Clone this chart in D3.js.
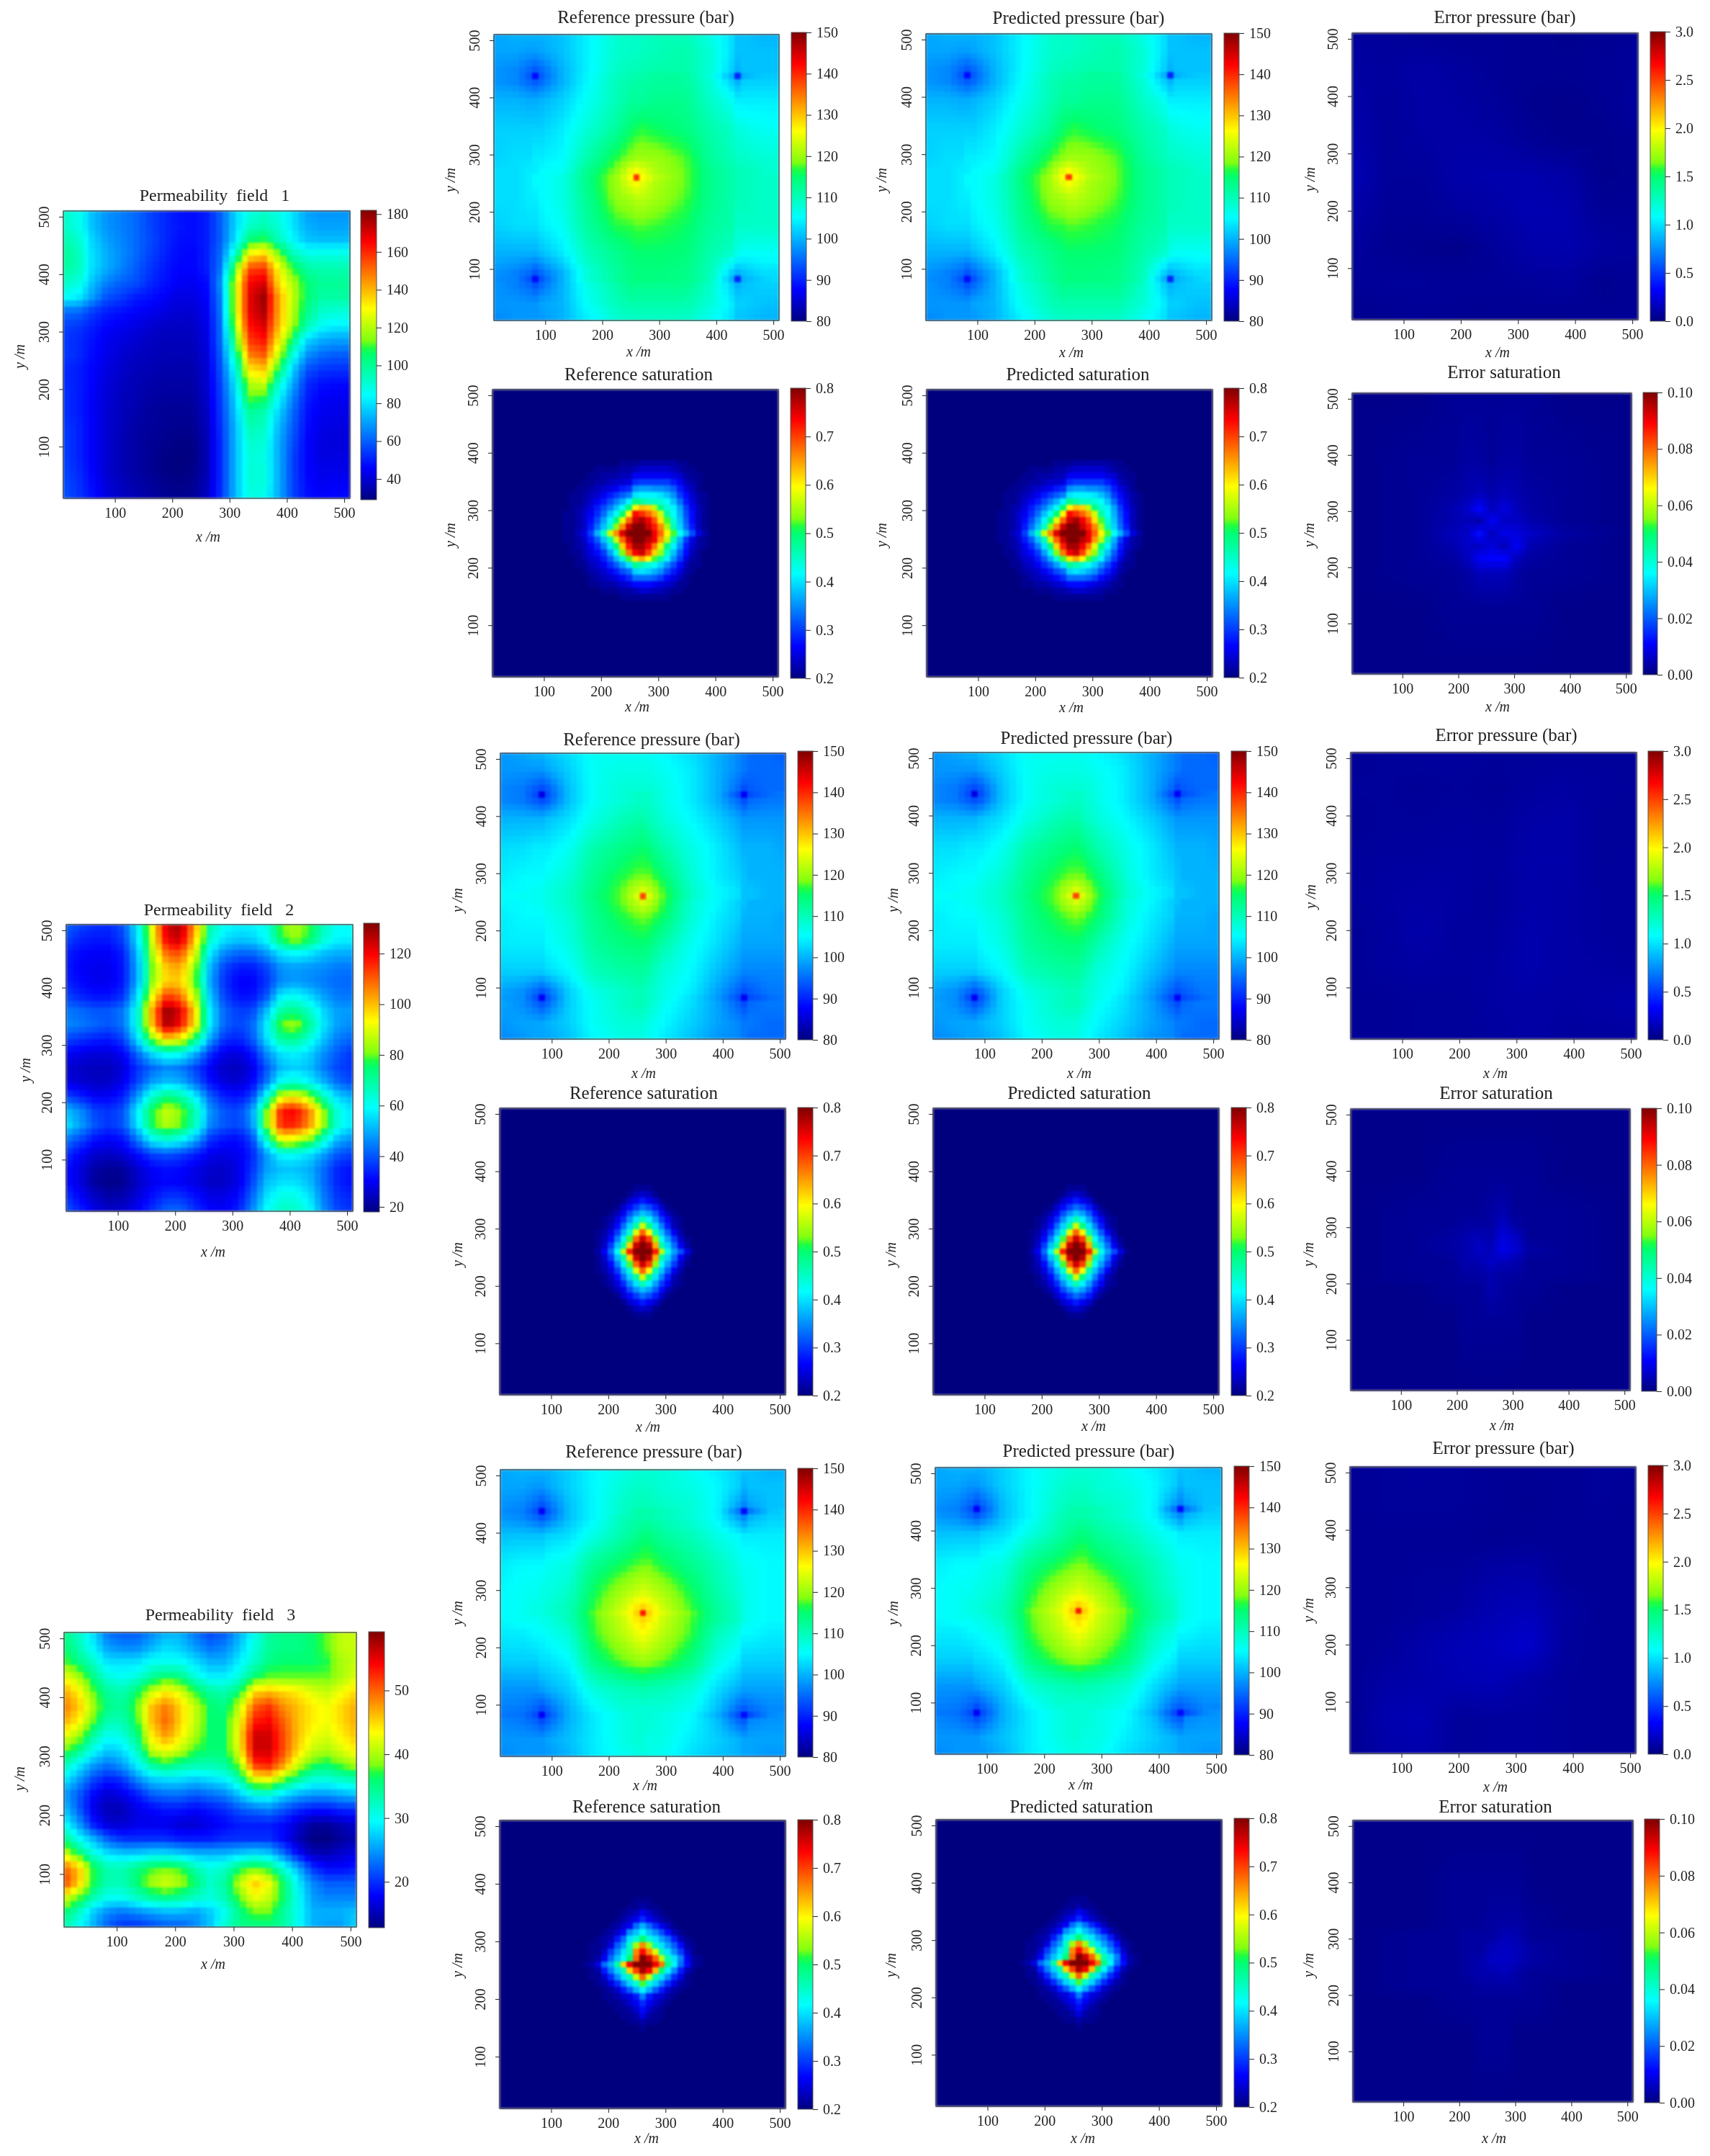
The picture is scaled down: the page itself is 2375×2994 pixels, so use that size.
<!DOCTYPE html>
<html>
<head>
<meta charset="utf-8">
<script src="https://cdn.jsdelivr.net/npm/d3@7"></script>
<style>
  html, body { margin: 0; background: #fff; }
  #chart { position: relative; width: 2375px; height: 2994px; overflow: hidden; }
  canvas, svg { position: absolute; left: 0; top: 0; }
  svg { filter: blur(0.45px); }
  text { font-family: "Liberation Serif", serif; fill: #222; }
</style>
</head>
<body>
<div id="chart"></div>
<script>
// --- Values ---
// Each table holds samples estimated by eye from the colours. Rows run top (high y) to bottom.
// Between samples the cells are shaded linearly (like gouraud shading), nothing else is added.
const permXs = [10,35,60,85,110,135,160,185,210,235,260,285,310,335,360,385,410,435,460,485,510];
const permYs = [510,485,460,435,410,385,360,335,310,285,260,235,210,185,160,135,110,85,60,35,10];

const perm1 = [
[92,88,75,68,65,62,56,52,48,47,50,60,78,88,92,88,80,70,68,68,68],
[92,88,75,68,65,62,56,52,49,47,50,60,78,92,95,90,80,72,70,70,70],
[96,92,78,70,66,62,57,52,48,47,50,60,80,104,108,94,84,75,74,74,74],
[100,95,80,72,67,62,56,51,47,46,50,62,92,130,136,114,95,88,88,88,88],
[98,95,80,72,66,60,54,49,46,46,50,63,114,156,158,130,110,98,96,96,96],
[92,90,75,65,60,58,52,48,45,44,47,68,124,166,170,134,120,105,100,100,100],
[85,82,70,58,55,50,48,45,42,42,46,65,124,168,178,142,122,105,98,98,98],
[62,62,55,50,48,46,44,42,40,40,44,64,124,168,176,142,120,102,92,90,90],
[55,54,50,46,44,42,40,38,38,38,43,62,120,163,170,140,118,96,85,82,82],
[54,52,48,44,42,40,38,37,37,37,42,62,107,158,163,132,105,78,72,70,70],
[54,52,47,43,40,38,37,36,36,36,41,60,97,148,153,122,90,68,62,60,60],
[52,50,46,42,39,37,36,35,35,35,40,58,87,133,138,107,78,58,54,53,53],
[52,50,46,41,38,36,35,34,34,34,40,56,82,120,123,92,72,52,48,47,47],
[53,50,45,41,37,36,34,33,33,33,39,55,78,112,108,84,66,50,45,44,44],
[53,50,45,40,37,35,33,32,32,32,38,54,76,100,96,78,62,48,44,43,43],
[54,51,45,40,37,34,33,32,31,31,37,53,74,96,93,74,60,47,43,42,42],
[55,51,45,40,36,34,32,31,30,30,36,52,74,92,90,72,58,46,42,41,41],
[55,51,45,40,36,34,32,30,29,29,36,52,74,90,88,72,56,46,42,42,42],
[56,52,46,40,36,34,32,30,29,30,36,52,74,90,89,72,56,46,43,43,43],
[57,53,47,41,37,35,33,31,30,31,37,52,74,90,89,72,56,47,44,45,45],
[58,54,48,42,38,36,34,32,31,32,38,53,74,88,86,72,56,48,46,47,47]
];
const perm2 = [
[42,38,36,35,40,58,92,125,128,102,70,60,58,58,62,80,85,78,66,60,60],
[38,34,33,33,38,56,90,122,125,98,66,56,53,54,60,77,84,76,64,58,58],
[34,31,30,30,34,52,85,110,112,90,58,46,42,42,48,57,60,57,52,50,50],
[33,30,29,29,33,50,80,100,102,82,52,38,33,33,38,47,48,47,46,44,44],
[34,31,29,29,33,50,82,98,98,80,50,36,30,30,36,46,48,46,44,42,42],
[38,34,32,32,36,56,92,114,108,86,54,38,32,32,40,58,60,55,48,44,44],
[44,42,40,40,44,62,102,131,122,96,58,42,37,38,52,70,72,65,54,48,48],
[46,44,42,40,44,62,100,129,119,94,58,42,38,42,58,81,85,71,56,48,46],
[38,36,34,33,38,56,82,98,92,74,50,36,34,40,56,71,72,63,52,44,42],
[30,28,27,27,30,42,55,62,60,50,36,28,27,32,46,56,58,54,46,40,36],
[26,25,24,24,27,36,42,46,44,38,30,25,24,28,40,52,54,52,44,38,36],
[28,26,25,25,29,38,48,52,50,42,32,27,26,30,44,61,64,58,50,42,38],
[38,34,30,30,34,48,65,74,70,58,42,34,32,38,62,90,94,84,66,54,50],
[52,46,38,36,40,58,77,88,82,68,48,40,38,48,82,118,120,106,82,62,56],
[56,48,40,36,40,56,76,86,80,66,46,40,38,46,82,116,116,104,82,62,56],
[44,38,32,30,32,44,59,64,60,50,36,32,31,38,65,92,90,82,64,50,46],
[36,30,26,25,27,32,38,40,38,34,29,28,29,34,48,60,60,56,48,40,38],
[32,27,22,20,21,26,30,32,31,28,26,25,28,36,48,52,52,50,42,34,32],
[32,27,21,19,20,25,29,31,30,28,25,25,28,38,52,56,56,52,42,34,32],
[36,30,25,22,23,27,32,36,36,32,28,28,31,42,56,62,62,56,44,36,34],
[40,34,28,25,26,30,36,42,42,36,31,30,34,46,60,66,66,60,46,38,36]
];
const perm3 = [
[35,32,28,23,22,22,24,26,26,23,21,22,26,30,34,35,35,36,38,41,41],
[36,33,29,25,24,24,26,28,27,25,23,24,27,31,34,35,35,36,38,41,41],
[38,35,32,28,28,28,30,30,30,28,26,26,29,32,35,36,36,36,37,40,41],
[43,40,35,31,30,31,34,36,35,31,29,29,31,36,38,38,38,38,38,40,42],
[47,44,38,34,33,36,41,44,42,37,34,33,36,45,46,45,44,42,41,43,45],
[49,46,40,35,34,38,46,49,45,41,36,35,41,50,52,48,46,44,43,45,47],
[47,44,38,33,33,37,46,50,45,41,36,36,43,53,54,50,46,44,43,45,47],
[43,40,34,30,31,35,44,48,44,40,36,36,44,56,56,51,46,43,42,44,46],
[38,35,30,27,28,32,41,43,41,37,36,36,43,56,56,51,45,41,40,42,44],
[33,29,25,23,25,29,34,36,34,33,33,34,39,52,53,48,41,37,36,38,40],
[29,25,21,19,20,24,27,28,28,27,28,29,33,42,43,38,34,31,31,32,33],
[25,22,18,16,17,19,22,23,23,22,23,24,27,31,31,28,26,25,25,26,27],
[27,22,17,15,15,17,18,19,19,18,19,20,22,23,24,22,20,19,19,20,20],
[30,25,19,16,16,17,17,17,16,16,17,18,19,19,19,18,16,14,14,15,16],
[35,30,26,22,20,20,20,20,19,19,19,20,20,20,20,18,15,13,13,14,15],
[42,36,31,28,27,27,28,28,27,26,26,26,27,28,27,23,18,15,15,16,17],
[50,46,37,33,33,35,37,38,37,33,31,32,36,38,36,31,26,20,18,18,19],
[52,46,37,33,33,36,40,42,40,36,32,34,41,46,43,36,29,24,22,22,22],
[42,38,33,30,30,32,34,35,34,32,31,33,38,43,41,36,30,25,24,24,24],
[36,32,27,24,23,24,25,26,26,25,27,30,35,38,38,34,30,26,26,26,27],
[33,30,26,22,20,20,21,22,22,24,27,32,35,35,35,34,30,26,25,25,28]
];

const pressXs = [10,50,71,82,93,130,175,225,249,260,271,295,345,390,427,438,449,480,510];
const pressYs = [510,480,449,438,427,395,345,295,271,260,249,225,175,130,93,82,71,40,10];

const pressure1 = [
[99,100,100,100,100,101,104.5,108.5,109,109,109,110,110,107,103,101,101,100,100],
[99,99,98.5,98.5,99,101,104.5,108.5,109,109,109.5,110,111,108,103,101,101,101,101],
[98,97,95,94,95,100,104.5,109,110,110,110.5,111,111,108,102,100,101,101,101],
[98,97,94,88,94,100,105,109.5,110.5,111,111,112,112,107.5,100,90,100,101.5,101.5],
[98,97,95,94,95,100,105,110,111,111.5,111.5,112,112,108,102,100,102,102,102],
[100,100,99.5,99.5,100,102,106,110,112,112,112,113,113,109,106,104,104,104,104],
[102,102,102,102,102,104,108,112,115,116,116.5,115.5,114,111,109,107.5,107,106,106],
[102,103,103,104,104,105,111,116.5,119,120,120,120,117.5,112,110,109,109,108,108],
[103,103,104,104,105,106,113,119,124.5,126,124.5,121,118,113,111,110,110,109,108],
[103,103,104,105,105,107,113.5,120,126,139,126,122,118,113,111,110,110,109,109],
[103,103,104,105,105,107,113.5,120,124.5,126,124.5,121,118,113,111,110,110,109,109],
[103,103,104,104,105,107,113,119.5,121,122,122,120.5,117.5,113,111,110,110,109,109],
[102,103,103,103,104,106,112,116.5,117,117.5,117.5,117,115.5,112,111,109,109,109,109],
[100,100,100,100,101,104,110,113,114.5,115,115,115,114.5,111,109,107,106,106,106],
[98,96.5,95,93.5,95,100,108,112,113.5,114,114,114,113.5,110,102,100,101,103,103],
[97.5,96.5,93.5,88,93.5,100,108,112,113.5,114,114,114,113.5,110,100,90,100,102,103],
[98,96.5,95,93.5,95,100,107,111,113,113,113,113,113,109,102,100,101,102,102],
[98,98,98,98,99,100,106,110,111,111,111,111,111,108,104,102,102,101,101],
[97,98,98,98,98,100,104,108,109,109,109,109,109,106,103,101,101,100,100]
];
const pressure2 = [
[98,99,100,100,101,103,106,106,106,106,106,105,103,100,97,96,95,95,94],
[98,98,98,98,99,102,106,107,107,107,107,106,104,100,97,96,95,95,95],
[97,96,94,93,94,101,106,108,108,108,108,107,104,100,95,93,94,95,95],
[97,96,93,86,93,101,106,108,109,109,109,107,104,100,93,87,93,95,96],
[97,96,94,93,94,101,106,108,109,109,109,107,104,100,95,93,95,96,96],
[100,100,100,100,101,103,107,110,111,111,110,108,105,102,99,98,98,98,98],
[103,103,104,104,104,106,111,113.5,114.5,115,114,111,107,104,101,100,100,100,99],
[104,105,105,105,106,108,113,116.5,118,118,118,115,108,104,102,101,100,100,100],
[105,105,106,106,107,109,113.5,118,122,124,122,117,109,105,103,101,101,100,100],
[105,106,106,106,107,109,114,118,124,138,124,117.5,109,105,103,101,101,100,100],
[105,105,106,106,107,109,113.5,118,122,124,122,117,108,105,102,101,100,100,100],
[104,105,105,105,106,108,113,116.5,118,118.5,118,115.5,108,104,102,100,100,100,99],
[104,104,104,104,105,107,112,114,114.5,114.5,114,111,106,103,100,99,99,99,99],
[102,102,102,102,103,105,110,111.5,112,112,111,108,105,101,98,97,97,97,97],
[99,97.5,95,93.5,95,102,107,109,110,110,109,107,104,99,94.5,93,94,96,96],
[98.5,97.5,93.5,87,93.5,102,106.5,109,110,110,109,107,103,98.5,93,87,93,95,96],
[99,97.5,95,93.5,95,102,106,109,110,110,109,106,103,99,94.5,93,95,96,96],
[98,99,99,99,100,102,106,108,108,108,107,105,102,99,97,96,96,95,95],
[97,98,99,99,99,101,105,107,107,107,106,104,101,98,97,96,95,95,95]
];
const pressure3 = [
[99,100,100,100,100,102,105,107,108,108,108,108,106,104,102,101,101,100,100],
[99,99,98,98,99,102,105,108,109,109,109,108,107,105,102,100,101,101,101],
[98,97,95,93.5,95,101,105,109,110,110,110,109,108,105,99,97,99,101,101],
[97.5,96.5,93.5,87,93.5,101,105,109,111,111,111,110,108,105,96,88,96,101,102],
[98,97,95,93.5,95,101,105,110,111,111,111,110,108,105,99,97,100,102,102],
[101,101,101,101,102,103,107,111,113,114,114,112,110,107,105,104,104,104,104],
[104,105,105,105,106,107,113,116,117.5,118,118,116,113,110,107,106,106,105,105],
[105,106,106,107,107,109,116,121,123,124,123,121,116,111,108,107,106,105,105],
[105,106,107,107,108,110,117,123,127.5,129,127.5,123,117,112,109,107,106,105,105],
[105,106,107,107,108,110,118,124,129,141,129,124,118,112,109,107,106,105,105],
[105,106,106,107,107,110,117.5,123,127.5,129,127.5,123,117.5,112,109,107,106,105,105],
[104,104,105,105,106,108,117,122,125,126,125,122,117,110,107,105,105,104,104],
[102,102,102,103,103,105,114,118,119.5,120,119.5,118,114,107,104,102,102,102,102],
[98,98,98,99,100,102,108,110,110.5,111,110.5,110,108,103,100,99,99,99,99],
[96.5,96,94.5,93,94.5,100,105,108,108,108,108,108,106,101,95,94,95,97,97],
[96,95.5,93,87,93,100,104,107,108,108,108,107,105,100,93,88,93,97,98],
[97,96,94.5,93,94.5,100,104,107,108,108,108,107,105,101,95,94,97,98,98],
[98,98,98,98,99,101,104,107,108,108,107,107,104,102,100,99,99,99,99],
[97,98,98,98,98,100,104,106,107,107,107,106,103,101,100,99,99,98,98]
];

// saturation in percent, one sample per simulation cell around the injector, cell index from it
const sat1Cols = d3.range(-11, 12);
const sat1Rows = d3.range(11, -12, -1);
const saturation1 = [
[20,20,20,20,20,20,20,20,20,21,21,21,22,22,22,22,22,22,21,21,20,20,20],
[20,20,20,20,20,21,21,21,21,22,22,23,24,24,24,24,24,23,22,21,21,20,20],
[20,20,20,20,21,21,22,22,22,23,23,26,26,26,26,26,26,25,24,22,21,21,20],
[20,20,20,21,21,22,22,23,24,24,25,29,30,30,30,30,30,28,26,23,22,21,20],
[20,20,21,21,22,23,24,25,26,28,29,35,36,36,35,35,34,32,28,25,23,21,20],
[20,21,21,22,23,24,26,28,30,32,34,40,41,41,41,40,38,35,30,27,24,22,21],
[20,21,21,22,24,26,28,31,34,37,41,49,47,45,45,44,42,38,33,28,25,22,21],
[20,21,22,23,25,28,31,34,38,42,50,60,63,62,56,49,44,41,36,30,26,23,21],
[21,21,22,24,26,29,33,38,42,50,60,73,71,68,64,57,47,42,37,31,27,23,21],
[21,21,22,24,27,31,36,41,50,58,68,76,78,74,69,61,52,44,38,32,27,23,21],
[21,21,22,24,28,33,38,45,54,66,76,80,80,76,72,66,55,46,39,33,28,23,21],
[21,21,23,25,30,37,45,57,66,75,80,80,80,80,74,68,60,52,42,37,31,25,22],
[21,21,22,24,28,32,38,46,57,68,76,80,80,77,74,65,56,46,37,30,25,22,21],
[20,21,22,23,26,29,34,40,50,62,72,78,78,74,67,58,49,41,35,28,24,22,21],
[20,21,21,23,25,27,30,36,43,53,67,74,76,70,62,54,45,38,32,27,23,21,20],
[20,20,21,22,24,25,28,32,37,44,52,61,64,60,52,47,41,35,30,25,22,21,20],
[20,20,21,21,23,24,26,29,32,36,40,48,46,44,42,39,35,31,27,23,21,21,20],
[20,20,20,21,22,23,24,26,28,31,33,39,40,39,37,35,31,28,25,22,21,20,20],
[20,20,20,20,21,22,23,24,25,27,29,33,33,33,32,30,27,25,23,21,20,20,20],
[20,20,20,20,21,21,22,22,23,24,25,27,27,27,26,25,24,23,21,21,20,20,20],
[20,20,20,20,20,20,21,21,21,22,22,23,24,24,23,23,22,21,21,20,20,20,20],
[20,20,20,20,20,20,20,20,20,21,21,21,21,21,21,21,21,20,20,20,20,20,20],
[20,20,20,20,20,20,20,20,20,20,20,20,20,20,20,20,20,20,20,20,20,20,20]
];
const sat2Cols = d3.range(-9, 10);
const sat2Rows = d3.range(10, -11, -1);
const saturation2 = [
[20,20,20,20,20,20,20,20,21,21,21,20,20,20,20,20,20,20,20],
[20,20,20,20,20,20,20,21,23,24,23,21,20,20,20,20,20,20,20],
[20,20,20,20,20,20,21,24,26,28,26,24,21,20,20,20,20,20,20],
[20,20,20,20,20,21,24,27,30,33,31,28,24,21,20,20,20,20,20],
[20,20,20,20,21,23,26,31,35,38,36,32,27,23,21,20,20,20,20],
[20,20,20,21,22,25,29,35,40,46,41,36,30,26,22,21,20,20,20],
[20,20,20,21,23,27,33,39,47,57,49,40,34,28,23,21,20,20,20],
[20,20,21,22,25,30,37,44,58,68,60,46,38,32,26,22,20,20,20],
[20,20,21,23,27,34,41,52,68,76,70,54,42,36,30,24,21,20,20],
[20,20,21,24,30,38,47,62,76,80,77,64,47,39,33,26,22,20,20],
[20,20,22,26,33,42,56,72,80,80,80,72,56,43,36,31,25,21,20],
[20,20,21,24,30,38,47,62,76,80,77,64,47,39,33,26,22,20,20],
[20,20,21,23,27,34,41,52,68,76,70,54,42,36,30,24,21,20,20],
[20,20,21,22,25,30,37,44,58,68,60,46,38,32,26,22,20,20,20],
[20,20,20,21,23,27,33,39,47,57,49,40,34,28,23,21,20,20,20],
[20,20,20,21,22,25,29,35,40,46,41,36,30,26,22,21,20,20,20],
[20,20,20,20,21,23,26,31,35,38,36,32,27,23,21,20,20,20,20],
[20,20,20,20,20,21,24,27,30,33,31,28,24,21,20,20,20,20,20],
[20,20,20,20,20,20,21,24,26,28,26,24,21,20,20,20,20,20,20],
[20,20,20,20,20,20,20,21,23,24,23,21,20,20,20,20,20,20,20],
[20,20,20,20,20,20,20,20,21,21,21,20,20,20,20,20,20,20,20]
];
const saturation3 = [
[20,20,20,20,20,20,20,20,21,21,21,20,20,20,20,20,20,20,20],
[20,20,20,20,20,20,20,21,21,22,21,21,20,20,20,20,20,20,20],
[20,20,20,20,20,20,21,22,23,26,24,22,21,20,20,20,20,20,20],
[20,20,20,20,20,21,22,24,26,29,26,24,22,21,20,20,20,20,20],
[20,20,20,20,21,22,24,26,33,37,33,29,26,23,21,20,20,20,20],
[20,20,20,21,22,24,27,35,38,42,38,35,31,27,23,21,20,20,20],
[20,20,21,22,23,28,33,40,44,50,44,40,36,33,28,23,21,20,20],
[20,21,21,22,25,32,36,45,55,66,55,45,40,36,32,27,22,21,20],
[20,21,21,24,30,35,40,46,66,73,66,58,46,40,35,30,24,21,20],
[20,21,22,26,33,38,42,50,68,80,76,68,56,46,40,34,26,22,21],
[21,22,25,33,37,47,62,74,80,80,80,74,67,49,41,33,27,22,21],
[20,21,22,28,34,39,46,62,70,78,74,63,50,41,35,28,23,21,20],
[20,21,21,24,29,35,40,46,57,68,57,46,40,35,29,25,21,20,20],
[20,20,21,22,25,29,34,39,44,52,44,39,34,29,25,22,21,20,20],
[20,20,20,21,22,24,28,32,37,41,37,32,28,24,22,21,20,20,20],
[20,20,20,21,21,22,24,25,28,34,28,25,24,22,21,20,20,20,20],
[20,20,20,20,21,21,22,24,26,29,26,24,22,21,20,20,20,20,20],
[20,20,20,20,20,21,21,22,24,27,24,22,21,20,20,20,20,20,20],
[20,20,20,20,20,20,21,21,22,25,22,21,21,20,20,20,20,20,20],
[20,20,20,20,20,20,20,21,21,22,21,21,20,20,20,20,20,20,20],
[20,20,20,20,20,20,20,20,20,21,20,20,20,20,20,20,20,20,20]
];

const errPressXs = [10,72,135,197,260,322,385,447,510];
const errPressYs = [510,447,385,322,260,197,135,72,10];
const errPressure1 = [
[.08,.07,.06,.05,.06,.05,.04,.05,.07],
[.09,.08,.10,.08,.06,.05,.05,.06,.07],
[.11,.07,.10,.09,.07,.04,.03,.05,.08],
[.12,.07,.09,.10,.09,.06,.04,.04,.06],
[.14,.07,.07,.11,.12,.12,.10,.04,.05],
[.11,.06,.06,.08,.10,.13,.12,.06,.06],
[.08,.05,.04,.03,.07,.11,.12,.09,.07],
[.06,.07,.07,.06,.06,.07,.08,.04,.06],
[.04,.05,.06,.05,.05,.05,.05,.06,.06]
];
const errPressure2 = [
[.06,.07,.08,.08,.07,.07,.07,.07,.07],
[.07,.07,.06,.07,.06,.08,.09,.08,.07],
[.06,.07,.07,.08,.07,.10,.11,.07,.07],
[.07,.08,.08,.09,.08,.11,.11,.07,.08],
[.07,.09,.10,.09,.07,.11,.10,.08,.07],
[.06,.08,.11,.08,.08,.12,.10,.08,.07],
[.06,.08,.09,.08,.09,.12,.10,.09,.08],
[.06,.06,.07,.07,.09,.10,.09,.10,.12],
[.06,.06,.07,.07,.08,.10,.08,.08,.08]
];
const errPressure3 = [
[.06,.07,.08,.07,.06,.06,.06,.07,.07],
[.06,.07,.07,.07,.06,.05,.06,.07,.06],
[.06,.06,.06,.06,.05,.06,.06,.06,.06],
[.06,.06,.07,.07,.10,.11,.06,.06,.06],
[.06,.06,.07,.09,.13,.15,.09,.06,.06],
[.06,.07,.11,.14,.16,.20,.08,.06,.06],
[.05,.10,.11,.13,.14,.10,.07,.06,.06],
[.05,.12,.14,.07,.08,.08,.07,.06,.06],
[.05,.10,.12,.07,.08,.08,.07,.06,.06]
];

const errSatXs = [10,130,190,215,238,260,282,305,330,390,510];
const errSatYs = [510,390,330,305,282,260,238,215,190,130,10];
const errSaturation1 = [
[.001,.001,.002,.002,.002,.002,.002,.002,.002,.001,.001],
[.001,.002,.002,.003,.003,.002,.003,.003,.002,.002,.001],
[.001,.002,.003,.004,.005,.004,.005,.004,.003,.002,.001],
[.001,.002,.004,.006,.011,.005,.008,.005,.003,.002,.001],
[.001,.002,.004,.005,.004,.010,.006,.006,.004,.002,.001],
[.001,.002,.005,.006,.012,.005,.009,.008,.006,.003,.001],
[.001,.002,.004,.006,.006,.008,.005,.010,.004,.002,.001],
[.001,.002,.003,.005,.010,.011,.011,.005,.003,.002,.001],
[.001,.002,.002,.003,.005,.005,.005,.003,.002,.002,.001],
[.001,.001,.002,.002,.002,.002,.002,.002,.002,.001,.001],
[.001,.001,.001,.001,.001,.001,.001,.001,.001,.001,.001]
];
const errSaturation2 = [
[.001,.001,.001,.001,.001,.001,.001,.001,.001,.001,.001],
[.001,.001,.002,.002,.002,.002,.002,.002,.002,.001,.001],
[.001,.002,.002,.002,.002,.003,.004,.002,.002,.002,.001],
[.001,.002,.002,.003,.003,.003,.006,.003,.002,.002,.001],
[.001,.002,.003,.004,.005,.004,.008,.006,.002,.002,.001],
[.001,.002,.003,.004,.006,.005,.009,.007,.003,.002,.001],
[.001,.002,.002,.004,.004,.006,.005,.004,.002,.002,.001],
[.001,.002,.002,.003,.003,.004,.003,.003,.002,.002,.001],
[.001,.001,.002,.002,.002,.004,.003,.002,.002,.001,.001],
[.001,.001,.001,.002,.002,.002,.002,.002,.001,.001,.001],
[.001,.001,.001,.001,.001,.001,.001,.001,.001,.001,.001]
];
const errSaturation3 = [
[.001,.001,.001,.001,.001,.001,.001,.001,.001,.001,.001],
[.001,.001,.002,.002,.002,.002,.002,.002,.001,.001,.001],
[.001,.001,.002,.002,.002,.003,.003,.003,.002,.001,.001],
[.001,.002,.002,.003,.003,.003,.005,.004,.002,.002,.001],
[.001,.002,.002,.003,.003,.005,.006,.005,.003,.002,.001],
[.001,.002,.002,.003,.004,.006,.006,.005,.003,.002,.001],
[.001,.002,.002,.003,.004,.004,.005,.003,.002,.002,.001],
[.001,.002,.002,.002,.003,.003,.003,.003,.002,.001,.001],
[.001,.001,.002,.002,.002,.002,.002,.002,.002,.001,.001],
[.001,.001,.001,.001,.002,.002,.002,.001,.001,.001,.001],
[.001,.001,.001,.001,.001,.001,.001,.001,.001,.001,.001]
];

const axisTicks = [100, 200, 300, 400, 500];
const perm1Ticks = [40, 60, 80, 100, 120, 140, 160, 180];
const perm2Ticks = [20, 40, 60, 80, 100, 120];
const perm3Ticks = [20, 30, 40, 50];
const pressureTicks = [80, 90, 100, 110, 120, 130, 140, 150];
const saturationTicks = [0.2, 0.3, 0.4, 0.5, 0.6, 0.7, 0.8];
const errPressureTicks = [0, 0.5, 1, 1.5, 2, 2.5, 3];
const errSaturationTicks = [0, 0.02, 0.04, 0.06, 0.08, 0.1];

// --- Colours ---
const jetStops = [0, 0.11, 0.36, 0.5, 0.525, 0.55, 0.66, 0.89, 1];
const jetColors = ["#00007f", "#0000ff", "#00ffff", "#00ff70", "#20ff40", "#80ff10", "#ffff00", "#ff0000", "#7f0000"];
const jet = d3.scaleLinear().domain(jetStops).range(jetColors).clamp(true);

// --- Layout ---
const dimensions = { width: 2375, height: 2994 };
const CELLS = 45; // the simulation grid, 500 m / 45
const DOMAIN = [10, 510];
const cellCentre = k => 260 + k * 100 / 9;

const fmt1 = d3.format(".1f"), fmt2 = d3.format(".2f"), fmt0 = d3.format("d");
const kinds = {
  pressure: { range: [80, 150], ticks: pressureTicks, fmt: fmt0, xs: pressXs, ys: pressYs, unit: 1 },
  sat1: { range: [0.2, 0.8], ticks: saturationTicks, fmt: fmt1, xs: sat1Cols.map(cellCentre), ys: sat1Rows.map(cellCentre), unit: 0.01, outside: 20 },
  sat2: { range: [0.2, 0.8], ticks: saturationTicks, fmt: fmt1, xs: sat2Cols.map(cellCentre), ys: sat2Rows.map(cellCentre), unit: 0.01, outside: 20 },
  errP: { range: [0, 3], ticks: errPressureTicks, fmt: fmt1, xs: errPressXs, ys: errPressYs, unit: 1 },
  errS: { range: [0, 0.1], ticks: errSaturationTicks, fmt: fmt2, xs: errSatXs, ys: errSatYs, unit: 1 }
};

const panels = [
  { title: "Permeability  field   1", size: 24, data: perm1, kind: { range: [29, 182], ticks: perm1Ticks, fmt: fmt0, xs: permXs, ys: permYs, unit: 1 },
    box: [88, 486, 293, 692], bar: [501, 523, 292, 694], titleAt: [298, 271], xAt: [289, 746], yAt: [28, 495] },
  { title: "Permeability  field   2", size: 24, data: perm2, kind: { range: [18, 132], ticks: perm2Ticks, fmt: fmt0, xs: permXs, ys: permYs, unit: 1 },
    box: [92, 490, 1284, 1682], bar: [505, 527, 1282, 1683], titleAt: [304, 1263], xAt: [296, 1739], yAt: [36, 1486] },
  { title: "Permeability  field   3", size: 24, data: perm3, kind: { range: [12.8, 59.2], ticks: perm3Ticks, fmt: fmt0, xs: permXs, ys: permYs, unit: 1 },
    box: [89, 495, 2267, 2676], bar: [512, 534, 2266, 2677], titleAt: [306, 2242], xAt: [296, 2728], yAt: [28, 2470] },

  { title: "Reference pressure (bar)", data: pressure1, kind: kinds.pressure,
    box: [686, 1082, 48, 445], bar: [1099, 1120, 45, 446], titleAt: [897, 24], xAt: [887, 489], yAt: [626, 250] },
  { title: "Predicted pressure (bar)", data: pressure1, kind: kinds.pressure,
    box: [1286, 1683, 47, 445], bar: [1700, 1721, 46, 446], titleAt: [1498, 25], xAt: [1488, 490], yAt: [1225, 250] },
  { title: "Error pressure (bar)", data: errPressure1, kind: kinds.errP,
    box: [1878, 2275, 46, 444], bar: [2292, 2313, 44, 446], titleAt: [2090, 24], xAt: [2080, 490], yAt: [1820, 249] },
  { title: "Reference saturation", data: saturation1, kind: kinds.sat1,
    box: [684, 1081, 541, 940], bar: [1098, 1119, 539, 942], titleAt: [887, 520], xAt: [885, 982], yAt: [626, 743] },
  { title: "Predicted saturation", data: saturation1, kind: kinds.sat1,
    box: [1287, 1684, 541, 940], bar: [1700, 1721, 539, 941], titleAt: [1497, 520], xAt: [1488, 983], yAt: [1225, 743] },
  { title: "Error saturation", data: errSaturation1, kind: kinds.errS,
    box: [1878, 2266, 546, 936], bar: [2282, 2302, 545, 937], titleAt: [2089, 517], xAt: [2080, 982], yAt: [1819, 743] },

  { title: "Reference pressure (bar)", data: pressure2, kind: kinds.pressure,
    box: [695, 1091, 1046, 1443], bar: [1108, 1129, 1043, 1444], titleAt: [905, 1027], xAt: [894, 1491], yAt: [636, 1250] },
  { title: "Predicted pressure (bar)", data: pressure2, kind: kinds.pressure,
    box: [1296, 1693, 1045, 1443], bar: [1710, 1731, 1043, 1444], titleAt: [1509, 1025], xAt: [1499, 1491], yAt: [1241, 1250] },
  { title: "Error pressure (bar)", data: errPressure2, kind: kinds.errP,
    box: [1876, 2273, 1045, 1443], bar: [2289, 2310, 1043, 1444], titleAt: [2092, 1021], xAt: [2077, 1491], yAt: [1821, 1245] },
  { title: "Reference saturation", data: saturation2, kind: kinds.sat2,
    box: [694, 1091, 1539, 1937], bar: [1108, 1129, 1538, 1938], titleAt: [894, 1518], xAt: [900, 1982], yAt: [636, 1742] },
  { title: "Predicted saturation", data: saturation2, kind: kinds.sat2,
    box: [1296, 1693, 1539, 1937], bar: [1710, 1731, 1538, 1938], titleAt: [1499, 1518], xAt: [1519, 1981], yAt: [1238, 1742] },
  { title: "Error saturation", data: errSaturation2, kind: kinds.errS,
    box: [1876, 2264, 1540, 1931], bar: [2280, 2301, 1539, 1932], titleAt: [2078, 1518], xAt: [2086, 1980], yAt: [1818, 1742] },

  { title: "Reference pressure (bar)", data: pressure3, kind: kinds.pressure,
    box: [695, 1091, 2041, 2439], bar: [1108, 1129, 2039, 2440], titleAt: [908, 2016], xAt: [896, 2480], yAt: [636, 2240] },
  { title: "Predicted pressure (bar)", data: pressure3, kind: kinds.pressure,
    box: [1299, 1697, 2038, 2436], bar: [1714, 1735, 2036, 2437], titleAt: [1512, 2015], xAt: [1501, 2479], yAt: [1241, 2240] },
  { title: "Error pressure (bar)", data: errPressure3, kind: kinds.errP,
    box: [1875, 2272, 2037, 2435], bar: [2289, 2310, 2035, 2436], titleAt: [2088, 2011], xAt: [2077, 2482], yAt: [1818, 2236] },
  { title: "Reference saturation", data: saturation3, kind: kinds.sat2,
    box: [694, 1091, 2528, 2928], bar: [1108, 1129, 2527, 2929], titleAt: [898, 2509], xAt: [898, 2970], yAt: [636, 2729] },
  { title: "Predicted saturation", data: saturation3, kind: kinds.sat2,
    box: [1300, 1697, 2527, 2925], bar: [1714, 1735, 2525, 2926], titleAt: [1502, 2509], xAt: [1504, 2970], yAt: [1238, 2729] },
  { title: "Error saturation", data: errSaturation3, kind: kinds.errS,
    box: [1879, 2268, 2528, 2919], bar: [2284, 2305, 2526, 2920], titleAt: [2077, 2509], xAt: [2075, 2970], yAt: [1818, 2729] }
];

// --- Drawing ---
const chart = d3.select("#chart");
const canvas = chart.append("canvas").attr("width", dimensions.width).attr("height", dimensions.height).node();
const ctx = canvas.getContext("2d");
ctx.fillStyle = "#fff";
ctx.fillRect(0, 0, dimensions.width, dimensions.height);

const svg = chart.append("svg").attr("width", dimensions.width).attr("height", dimensions.height);

// read one simulation cell from a table of samples (fractional row and column, then linear in between)
function sampler(p) {
  const k = p.kind;
  const col = d3.scaleLinear().domain(k.xs).range(d3.range(k.xs.length)).clamp(true);
  const row = d3.scaleLinear().domain(k.ys).range(d3.range(k.ys.length)).clamp(true);
  const [xLo, xHi] = d3.extent(k.xs), [yLo, yHi] = d3.extent(k.ys);
  return (xm, ym) => {
    // the saturation tables only cover the plume, the rest of the field is at its base value
    if (k.outside !== undefined && (xm < xLo - 1 || xm > xHi + 1 || ym < yLo - 1 || ym > yHi + 1)) return k.outside * k.unit;
    const cf = col(xm), rf = row(ym);
    const c0 = Math.floor(cf), r0 = Math.floor(rf);
    const c1 = Math.min(c0 + 1, k.xs.length - 1), r1 = Math.min(r0 + 1, k.ys.length - 1);
    const top = d3.interpolateNumber(p.data[r0][c0], p.data[r0][c1])(cf - c0);
    const bot = d3.interpolateNumber(p.data[r1][c0], p.data[r1][c1])(cf - c0);
    return d3.interpolateNumber(top, bot)(rf - r0) * k.unit;
  };
}

function drawField(p, x, y) {
  const k = p.kind;
  const norm = d3.scaleLinear().domain(k.range).range([0, 1]);
  const read = sampler(p);
  const cell = d3.scaleBand().domain(d3.range(CELLS)).range([0, CELLS]);
  const off = document.createElement("canvas");
  off.width = CELLS;
  off.height = CELLS;
  const o = off.getContext("2d");
  d3.range(CELLS).forEach(i => {
    d3.range(CELLS).forEach(j => {
      const xm = DOMAIN[0] + (i + 0.5) * (DOMAIN[1] - DOMAIN[0]) / CELLS;
      const ym = DOMAIN[1] - (j + 0.5) * (DOMAIN[1] - DOMAIN[0]) / CELLS;
      o.fillStyle = jet(norm(read(xm, ym)));
      o.fillRect(cell(i), cell(j), cell.bandwidth(), cell.bandwidth());
    });
  });
  // cells stay visible but slightly soft, as in the scan
  ctx.save();
  ctx.imageSmoothingEnabled = false;
  ctx.filter = "blur(1.4px)";
  ctx.drawImage(off, x(DOMAIN[0]), y(DOMAIN[1]), x(DOMAIN[1]) - x(DOMAIN[0]), y(DOMAIN[0]) - y(DOMAIN[1]));
  ctx.restore();
}

function drawBar(p, scale) {
  const k = p.kind;
  const norm = d3.scaleLinear().domain(k.range).range([0, 1]);
  const [l, r, t, b] = p.bar;
  d3.range(t, b).forEach(py => {
    ctx.fillStyle = jet(norm(scale.invert(py + 0.5)));
    ctx.fillRect(l, py, r - l, 1);
  });
}

panels.forEach(p => {
  const [left, right, top, bottom] = p.box;
  const [barLeft, barRight, barTop, barBottom] = p.bar;
  const x = d3.scaleLinear().domain(DOMAIN).range([left, right]);
  const y = d3.scaleLinear().domain(DOMAIN).range([bottom, top]);
  const c = d3.scaleLinear().domain(p.kind.range).range([barBottom, barTop]);

  drawField(p, x, y);
  drawBar(p, c);

  const g = svg.append("g");

  g.append("rect").attr("x", left).attr("y", top).attr("width", right - left).attr("height", bottom - top)
    .attr("fill", "none").attr("stroke", "#333").attr("stroke-width", 1.2);
  g.append("rect").attr("x", barLeft).attr("y", barTop).attr("width", barRight - barLeft).attr("height", barBottom - barTop)
    .attr("fill", "none").attr("stroke", "#555").attr("stroke-width", 1);

  const xAxis = g.append("g").attr("transform", `translate(0,${bottom})`)
    .call(d3.axisBottom(x).tickValues(axisTicks).tickSize(6).tickPadding(7).tickFormat(fmt0));
  xAxis.selectAll("text").style("font-size", "20px").style("font-family", null);

  const yAxis = g.append("g").attr("transform", `translate(${left},0)`)
    .call(d3.axisLeft(y).tickValues(axisTicks).tickSize(6).tickFormat(fmt0));
  // tick labels run along the axis, R style
  yAxis.selectAll("text")
    .attr("x", 0).attr("dy", null)
    .attr("transform", "translate(-20,0) rotate(-90)")
    .attr("text-anchor", "middle")
    .style("font-size", "20px");

  const barAxis = g.append("g").attr("transform", `translate(${barRight},0)`)
    .call(d3.axisRight(c).tickValues(p.kind.ticks).tickSize(7).tickPadding(7).tickFormat(p.kind.fmt));
  barAxis.selectAll("text").style("font-size", "20px");

  g.selectAll(".domain").remove();
  g.selectAll(".tick line").attr("stroke", "#333").attr("stroke-width", 1.1);
  g.selectAll(".tick text").attr("font-family", null).attr("fill", "#222");

  g.append("text").attr("x", p.titleAt[0]).attr("y", p.titleAt[1]).attr("dy", "0.33em")
    .attr("text-anchor", "middle").style("font-size", (p.size || 25) + "px").style("white-space", "pre").text(p.title);
  g.append("text").attr("x", p.xAt[0]).attr("y", p.xAt[1]).attr("dy", "0.3em")
    .attr("text-anchor", "middle").style("font-size", "20px").style("font-style", "italic").text("x /m");
  g.append("text").attr("transform", `translate(${p.yAt[0]},${p.yAt[1]}) rotate(-90)`).attr("dy", "0.3em")
    .attr("text-anchor", "middle").style("font-size", "20px").style("font-style", "italic").text("y /m");
});
</script>
</body>
</html>
